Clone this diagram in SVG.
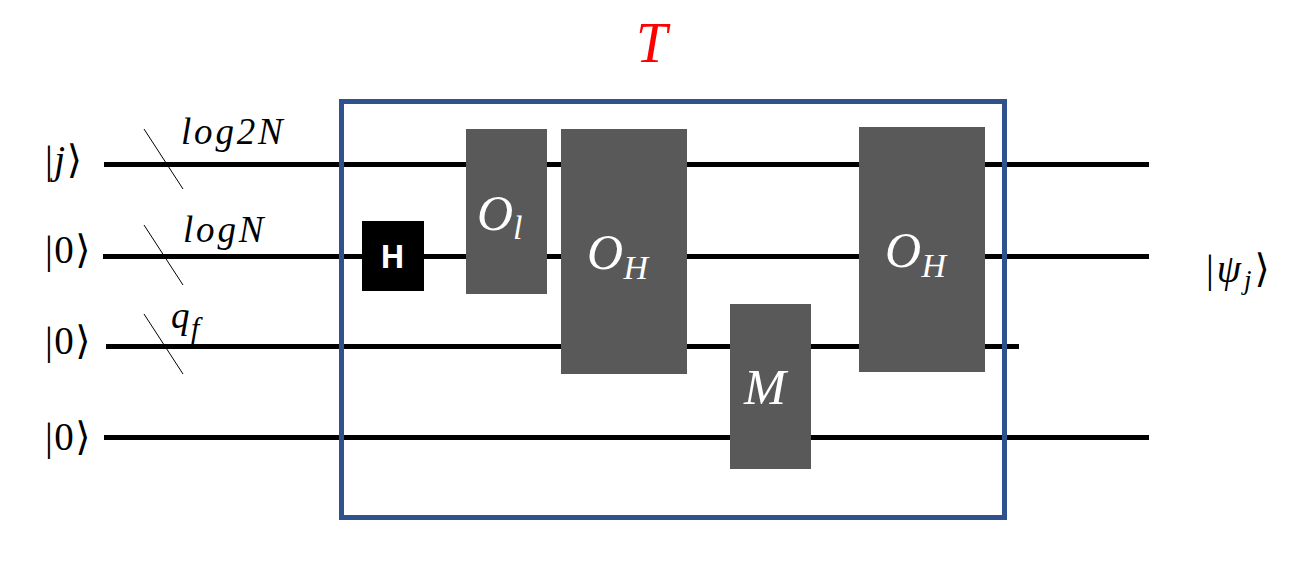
<svg xmlns="http://www.w3.org/2000/svg" width="1316" height="576" viewBox="0 0 1316 576">
<style>
.w{stroke:#000;stroke-width:5;fill:none}
.s{stroke:#000;stroke-width:1;fill:none}
.g{fill:#595959}
text{font-family:"Liberation Serif","DejaVu Serif",serif}
.m{font-size:37px;font-style:italic;fill:#000;letter-spacing:2.800px}
.k{font-size:39px;fill:#000;letter-spacing:1.500px}
.o{font-size:50px;font-style:italic;fill:#fff}
.sub{font-size:34px}
</style>
<rect width="1316" height="576" fill="#fff"/>
<g id="connectors">
<path class="w" d="M104 164.500H1149"/>
<path class="w" d="M103 256.500H1149"/>
<path class="w" d="M106 346.500H1019"/>
<path class="w" d="M104 437.500H1149"/>
<path class="s" d="M144 129L183 189"/>
<path class="s" d="M144 225L183 285"/>
<path class="s" d="M144 314L183 374"/>
</g>
<g id="box-T"><rect x="341.500" y="101.500" width="663" height="416" fill="none" stroke="#2f528f" stroke-width="5"/></g>
<g id="gate-H"><rect x="362" y="221" width="62" height="70" fill="#000"/>
<text x="392.500" y="268" text-anchor="middle" font-size="32" font-weight="700" fill="#fff" style="font-family:'Open Sans','DejaVu Sans',sans-serif">H</text></g>
<g id="gate-Ol"><rect class="g" x="466" y="129" width="81" height="165"/>
<text class="o" x="477" y="230">O<tspan class="sub" x="513" dy="9">l</tspan></text></g>
<g id="gate-OH1"><rect class="g" x="561" y="129" width="126" height="245"/>
<text class="o" x="587" y="269">O<tspan class="sub" x="623.500" dy="10">H</tspan></text></g>
<g id="gate-M"><rect class="g" x="730" y="304" width="81" height="165"/>
<text class="o" x="744" y="404" textLength="42" lengthAdjust="spacingAndGlyphs">M</text></g>
<g id="gate-OH2"><rect class="g" x="859" y="127" width="126" height="245"/>
<text class="o" x="885" y="267">O<tspan class="sub" x="921.500" dy="10">H</tspan></text></g>
<g id="label-T"><text x="636" y="62" font-size="56" font-style="italic" fill="#f00">T</text></g>
<g id="labels">
<text class="k" x="45" y="173">|<tspan font-style="italic">j</tspan>⟩</text>
<text class="k" x="45" y="263">|0⟩</text>
<text class="k" x="45" y="354">|0⟩</text>
<text class="k" x="45" y="450">|0⟩</text>
<text class="m" x="181" y="144">log2N</text>
<text class="m" x="183" y="242">logN</text>
<text class="m" x="171" y="328">q<tspan x="191" dy="10" style="font-size:30px">f</tspan></text>
<text class="k" x="1206" y="282" style="letter-spacing:3px">|<tspan font-style="italic">ψ</tspan><tspan font-style="italic" font-size="27" dy="7">j</tspan><tspan dy="-7">⟩</tspan></text>
</g>
</svg>
